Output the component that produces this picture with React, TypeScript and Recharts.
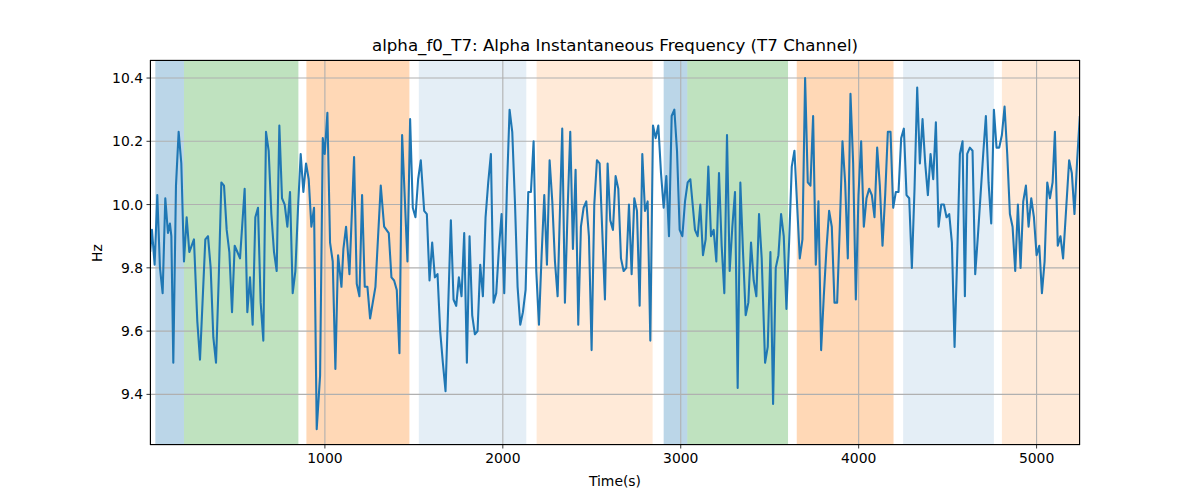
import { LineChart, Line, XAxis, YAxis, CartesianGrid, ReferenceArea } from "recharts";

// sample times (s) and alpha instantaneous frequency (Hz)
const TIMES = [
    18, 28, 43, 58, 73, 88, 103, 118, 129, 137, 148, 163, 178, 193, 208, 223, 238, 264, 283, 298,
    328, 343, 358, 373, 388, 403, 418, 433, 448, 463, 478, 493, 508, 523, 549, 564, 579, 594, 609, 624,
    639, 654, 669, 684, 699, 714, 729, 744, 759, 774, 789, 804, 819, 834, 849, 864, 879, 894, 909, 924,
    939, 954, 973, 988, 999, 1014, 1029, 1044, 1059, 1074, 1093, 1104, 1119, 1138, 1164, 1179, 1194, 1209, 1224, 1239,
    1254, 1284, 1314, 1333, 1359, 1374, 1389, 1404, 1419, 1434, 1464, 1479, 1494, 1509, 1524, 1539, 1558, 1573, 1588, 1603,
    1618, 1633, 1648, 1663, 1678, 1708, 1723, 1738, 1753, 1768, 1783, 1798, 1813, 1828, 1843, 1858, 1873, 1888, 1903, 1918,
    1933, 1948, 1963, 1978, 1993, 2008, 2023, 2038, 2053, 2068, 2083, 2098, 2113, 2128, 2143, 2158, 2173, 2188, 2203, 2218,
    2233, 2248, 2263, 2278, 2293, 2308, 2323, 2334, 2349, 2364, 2379, 2394, 2409, 2424, 2439, 2454, 2469, 2484, 2499, 2514,
    2529, 2544, 2574, 2589, 2604, 2619, 2634, 2649, 2664, 2679, 2694, 2709, 2724, 2739, 2754, 2769, 2784, 2799, 2814, 2829,
    2844, 2859, 2874, 2889, 2904, 2919, 2934, 2949, 2964, 2979, 2994, 3009, 3024, 3039, 3054, 3080, 3095, 3110, 3125, 3140,
    3155, 3170, 3185, 3200, 3215, 3230, 3245, 3260, 3275, 3290, 3305, 3320, 3335, 3350, 3365, 3380, 3395, 3410, 3425, 3440,
    3455, 3474, 3489, 3504, 3519, 3534, 3549, 3564, 3579, 3594, 3609, 3624, 3639, 3654, 3669, 3684, 3699, 3714, 3729, 3744,
    3759, 3774, 3789, 3804, 3819, 3834, 3849, 3864, 3879, 3894, 3909, 3924, 3939, 3954, 3969, 3984, 3999, 4014, 4029, 4044,
    4059, 4074, 4089, 4104, 4119, 4134, 4149, 4164, 4179, 4194, 4209, 4224, 4239, 4254, 4269, 4284, 4299, 4314, 4329, 4344,
    4359, 4374, 4389, 4404, 4419, 4434, 4449, 4464, 4479, 4494, 4509, 4524, 4539, 4554, 4569, 4584, 4597, 4610, 4625, 4640,
    4655, 4670, 4685, 4700, 4715, 4730, 4745, 4760, 4775, 4790, 4805, 4820, 4835, 4850, 4865, 4880, 4895, 4910, 4925, 4940,
    4955, 4970, 4985, 5000, 5015, 5030, 5045, 5060, 5075, 5090, 5103, 5119, 5134, 5149, 5183, 5198, 5213, 5228, 5243,
];

const HZ = [
    9.85, 9.92, 9.81, 10.03, 9.8, 9.72, 10.02, 9.91, 9.94, 9.9, 9.5, 10.06, 10.23, 10.13, 9.82, 9.96, 9.85, 9.89, 9.63, 9.51,
    9.89, 9.9, 9.8, 9.58, 9.5, 9.76, 10.07, 10.06, 9.92, 9.85, 9.66, 9.87, 9.85, 9.83, 10.05, 9.66, 9.77, 9.62, 9.96, 9.99,
    9.69, 9.57, 10.23, 10.17, 9.97, 9.85, 9.79, 10.25, 10.02, 10.0, 9.93, 10.04, 9.72, 9.79, 9.99, 10.16, 10.04, 10.13, 10.08, 9.93,
    9.99, 9.29, 9.46, 10.21, 10.16, 10.29, 9.88, 9.82, 9.48, 9.84, 9.74, 9.86, 9.93, 9.78, 10.15, 9.75, 9.71, 10.03, 9.74, 9.74,
    9.64, 9.74, 10.06, 9.93, 9.91, 9.77, 9.76, 9.73, 9.53, 10.22, 9.82, 10.27, 9.99, 9.96, 10.08, 10.14, 9.98, 9.97, 9.76, 9.88,
    9.77, 9.78, 9.6, 9.5, 9.41, 9.95, 9.7, 9.68, 9.77, 9.71, 9.91, 9.5, 9.9, 9.65, 9.59, 9.6, 9.81, 9.71, 9.96, 10.07,
    10.16, 9.69, 9.72, 9.86, 9.97, 9.72, 10.05, 10.3, 10.23, 10.01, 9.74, 9.62, 9.66, 9.73, 10.04, 10.04, 10.2, 9.79, 9.62, 9.84,
    10.03, 9.81, 10.14, 10.01, 9.82, 9.71, 10.02, 10.24, 9.69, 9.98, 10.23, 9.86, 10.11, 9.62, 9.93, 9.99, 10.01, 9.9, 9.54, 10.0,
    10.14, 10.13, 9.7, 10.13, 9.95, 9.92, 10.09, 10.05, 9.83, 9.79, 9.8, 10.0, 9.78, 10.02, 9.98, 9.68, 10.16, 9.98, 10.01, 9.57,
    10.25, 10.21, 10.25, 10.1, 9.99, 10.09, 9.9, 10.28, 10.3, 10.17, 9.92, 9.9, 10.01, 10.07, 10.08, 9.92, 9.9, 10.0, 9.84, 9.89,
    10.12, 9.9, 9.92, 9.82, 10.1, 9.87, 9.72, 10.22, 9.79, 9.93, 10.04, 9.42, 10.07, 9.85, 9.65, 9.69, 9.88, 9.76, 9.71, 9.97,
    9.83, 9.5, 9.55, 9.85, 9.37, 9.8, 9.84, 9.97, 9.9, 9.67, 9.88, 10.12, 10.17, 10.0, 9.83, 9.89, 10.4, 10.07, 10.06, 10.28,
    9.81, 10.01, 9.54, 9.71, 9.86, 9.98, 9.93, 9.69, 9.69, 9.93, 10.2, 10.07, 9.83, 10.35, 10.13, 9.7, 10.03, 10.2, 9.93, 10.02,
    10.05, 10.03, 9.96, 10.18, 10.06, 9.87, 10.03, 10.23, 10.23, 9.99, 10.04, 10.04, 10.21, 10.24, 10.03, 10.02, 9.8, 10.05, 10.37, 10.13,
    10.27, 10.13, 10.03, 10.16, 10.08, 10.26, 9.93, 10.0, 10.0, 9.96, 9.97, 9.88, 9.55, 9.84, 10.16, 10.2, 9.71, 10.16, 10.18, 10.17,
    9.78, 9.9, 10.03, 10.16, 10.28, 10.07, 9.94, 10.3, 10.18, 10.18, 10.22, 10.31, 10.16, 9.97, 9.93, 9.79, 10.0, 9.8, 10.01, 10.06,
    9.93, 10.02, 9.96, 9.84, 9.87, 9.72, 9.82, 10.07, 10.02, 10.07, 10.23, 9.87, 9.9, 9.83, 10.14, 10.1, 9.97, 10.14, 10.28,
];

const X_TICKS = [1000, 2000, 3000, 4000, 5000];
const Y_TICKS = [9.4, 9.6, 9.8, 10.0, 10.2, 10.4];

// shaded segments
const SPAN_START = [47, 208, 896, 1528, 2190, 2904, 3037, 3652, 4250, 4805];
const SPAN_END = [208, 851, 1475, 2132, 2842, 3037, 3603, 4196, 4760, 5244];
const SPAN_KIND = ["blue", "green", "orange", "paleBlue", "paleOrange", "blue", "green", "orange", "paleBlue", "paleOrange"];

const SPAN_STYLE: Record<string, { color: string; alpha: number }> = {
    blue: { color: "#1f77b4", alpha: 0.3 },
    green: { color: "#2ca02c", alpha: 0.3 },
    orange: { color: "#ff7f0e", alpha: 0.3 },
    paleBlue: { color: "#1f77b4", alpha: 0.12 },
    paleOrange: { color: "#ff7f0e", alpha: 0.16 },
};

const X_DOMAIN = [17, 5244];
const Y_DOMAIN = [9.24, 10.457];

const FONT = "'DejaVu Sans', sans-serif";

export default function App() {
    const data = TIMES.map((t, i) => ({ t, hz: HZ[i] }));
    const tickStyle = { fill: "#000", fontSize: 13.9, fontFamily: FONT };

    return (
        <div style={{ position: "fixed", left: 0, top: 0, width: 1200, height: 500, background: "#fff" }}>
            <LineChart width={1200} height={500} data={data} margin={{ top: 60, right: 120, bottom: 10, left: 0 }}>
                {SPAN_START.map((s, i) => {
                    const st = SPAN_STYLE[SPAN_KIND[i]];
                    return (
                        <ReferenceArea
                            key={i}
                            x1={s}
                            x2={SPAN_END[i]}
                            fill={st.color}
                            fillOpacity={st.alpha}
                            stroke="none"
                            ifOverflow="hidden"
                            zIndex={-150}
                        />
                    );
                })}
                <CartesianGrid stroke="#b0b0b0" strokeWidth={1.1} />
                <XAxis
                    dataKey="t"
                    type="number"
                    domain={X_DOMAIN}
                    ticks={X_TICKS}
                    allowDataOverflow
                    height={45}
                    axisLine={false}
                    tickSize={3.5}
                    tickMargin={5}
                    tickLine={{ stroke: "#000", strokeWidth: 0.8 }}
                    tick={tickStyle}
                />
                <YAxis
                    type="number"
                    domain={Y_DOMAIN}
                    ticks={Y_TICKS}
                    allowDataOverflow
                    width={150}
                    axisLine={false}
                    tickSize={3.5}
                    tickMargin={3.5}
                    tickLine={{ stroke: "#000", strokeWidth: 0.8 }}
                    tick={tickStyle}
                    tickFormatter={(v: number) => v.toFixed(1)}
                />
                <Line
                    type="linear"
                    dataKey="hz"
                    stroke="#1f77b4"
                    strokeWidth={2.08}
                    strokeLinejoin="round"
                    dot={false}
                    isAnimationActive={false}
                />
            </LineChart>
            <div
                style={{
                    position: "absolute",
                    left: 150,
                    top: 60,
                    width: 930,
                    height: 385,
                    border: "1px solid #000",
                    boxSizing: "border-box",
                    pointerEvents: "none",
                }}
            />
            <div
                style={{
                    position: "absolute",
                    left: 150,
                    width: 930,
                    top: 36,
                    lineHeight: "20px",
                    textAlign: "center",
                    fontFamily: FONT,
                    fontSize: 16.67,
                    color: "#000",
                }}
            >
                alpha_f0_T7: Alpha Instantaneous Frequency (T7 Channel)
            </div>
            <div
                style={{
                    position: "absolute",
                    left: 150,
                    width: 930,
                    top: 473,
                    lineHeight: "16px",
                    textAlign: "center",
                    fontFamily: FONT,
                    fontSize: 13.9,
                    color: "#000",
                }}
            >
                Time(s)
            </div>
            <div
                style={{
                    position: "absolute",
                    left: 97,
                    top: 253,
                    transform: "translate(-50%, -50%) rotate(-90deg)",
                    lineHeight: "16px",
                    fontFamily: FONT,
                    fontSize: 13.9,
                    color: "#000",
                }}
            >
                Hz
            </div>
        </div>
    );
}
